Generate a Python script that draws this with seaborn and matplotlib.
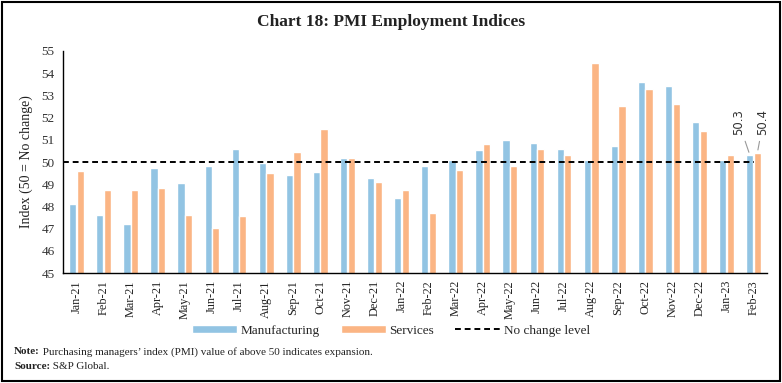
import matplotlib
matplotlib.use("Agg")
import matplotlib.pyplot as plt
import seaborn as sns
import pandas as pd
import numpy as np
from matplotlib.patches import Patch, Rectangle
from matplotlib.lines import Line2D

months = ["Jan-21", "Feb-21", "Mar-21", "Apr-21", "May-21", "Jun-21", "Jul-21", "Aug-21",
          "Sep-21", "Oct-21", "Nov-21", "Dec-21", "Jan-22", "Feb-22", "Mar-22", "Apr-22",
          "May-22", "Jun-22", "Jul-22", "Aug-22", "Sep-22", "Oct-22", "Nov-22", "Dec-22",
          "Jan-23", "Feb-23"]
manufacturing = [48.1, 47.6, 47.2, 49.75, 49.05, 49.8, 50.6, 49.95, 49.4, 49.55, 50.2, 49.3,
                 48.4, 49.8, 50.1, 50.55, 51.0, 50.85, 50.6, 50.1, 50.7, 53.6, 53.4, 51.8,
                 50.1, 50.3]
services = [49.6, 48.75, 48.75, 48.85, 47.6, 47.05, 47.55, 49.5, 50.45, 51.5, 50.2, 49.1,
            48.75, 47.7, 49.65, 50.8, 49.8, 50.6, 50.3, 54.45, 52.5, 53.3, 52.6, 51.4,
            50.3, 50.4]
series_names = ["Manufacturing", "Services"]
colors = ["#92C4E3", "#FBB584"]
yticks = list(range(45, 56))

df = pd.DataFrame({
    "Month": months * 2,
    "Value": manufacturing + services,
    "Series": [series_names[0]] * len(months) + [series_names[1]] * len(months),
})

sns.set_style("white")
plt.rcParams["font.family"] = ["Liberation Serif", "DejaVu Serif"]

fig = plt.figure(figsize=(7.82, 3.83), dpi=100)
ax = fig.add_axes([0.0806, 0.287, 0.9004, 0.580])

sns.barplot(data=df, x="Month", y="Value", hue="Series", order=months,
            hue_order=series_names, palette=colors, width=0.56, gap=0.04,
            ax=ax, legend=False, saturation=1)
ax.set_ylim(45, 55)
ax.set_xlim(-0.5, len(months) - 0.5)
ax.hlines(50, -0.5, len(months) - 1.0, colors="black", linestyles=(0, (3, 2)), linewidth=1.4, zorder=5)

ax.set_yticks(yticks)
ax.set_yticklabels([str(t) for t in yticks], fontsize=9.5, color="#333333")
ax.set_xticks(range(len(months)))
ax.set_xticklabels(months, rotation=90, fontsize=8.8, color="#222222")
ax.set_xticks(np.arange(-0.5, len(months), 1.0), minor=True)
ax.tick_params(axis="x", which="major", length=0, pad=5)
ax.tick_params(axis="x", which="minor", length=5, width=1, color="black", direction="out")
ax.tick_params(axis="y", length=4, width=1, color="black", direction="out", pad=2)
ax.set_xlabel("")
ax.set_ylabel("Index (50 = No change)", fontsize=10, color="#222222", labelpad=6)
for s in ["top", "right"]:
    ax.spines[s].set_visible(False)
for s in ["left", "bottom"]:
    ax.spines[s].set_color("black")
    ax.spines[s].set_linewidth(1)

# annotations for last values
n = len(months) - 1
ax.annotate(f"{manufacturing[-1]:.1f}", xy=(n - 0.14, manufacturing[-1] + 0.02),
            xytext=(n - 0.55, 51.2), rotation=90, fontsize=8.5, color="#333333",
            family="DejaVu Sans", ha="center", va="bottom",
            arrowprops=dict(arrowstyle="-", color="#999999", lw=0.8))
ax.annotate(f"{services[-1]:.1f}", xy=(n + 0.14, services[-1] + 0.02),
            xytext=(n + 0.35, 51.2), rotation=90, fontsize=8.5, color="#333333",
            family="DejaVu Sans", ha="center", va="bottom",
            arrowprops=dict(arrowstyle="-", color="#999999", lw=0.8))

fig.text(0.5, 0.942, "Chart 18: PMI Employment Indices", ha="center", va="center",
         fontsize=12.5, fontweight="bold", color="#222222")

handles = [Patch(facecolor=colors[0]), Patch(facecolor=colors[1]),
           Line2D([0], [0], color="black", linestyle=(0, (3, 2)), linewidth=1.4)]
fig.legend(handles, series_names + ["No change level"], loc="center",
           bbox_to_anchor=(0.5, 0.137), ncol=3, frameon=False, fontsize=9.5,
           handlelength=3.4, handleheight=0.6, columnspacing=1.6, handletextpad=0.3)

note_lbl = fig.text(0.018, 0.081, "Note:", fontsize=8, fontweight="bold", va="center", color="#222222")
fig.text(0, 0, " Purchasing managers’ index (PMI) value of above 50 indicates expansion.",
         fontsize=8, va="center", ha="left", color="#222222",
         transform=matplotlib.transforms.offset_copy(fig.transFigure, fig=fig, x=0, y=0))
src_lbl = fig.text(0.018, 0.044, "Source:", fontsize=8, fontweight="bold", va="center", color="#222222")

fig.canvas.draw()
r = fig.canvas.get_renderer()
inv = fig.transFigure.inverted()
for lbl, txt in [(note_lbl, " Purchasing managers’ index (PMI) value of above 50 indicates expansion."),
                 (src_lbl, " S&P Global.")]:
    bb = lbl.get_window_extent(renderer=r)
    x1 = inv.transform((bb.x1, 0))[0]
    y = lbl.get_position()[1]
    fig.text(x1, y, txt, fontsize=8, va="center", ha="left", color="#222222")
# remove the placeholder text
fig.texts[2].remove()

fig.add_artist(Rectangle((0.002, 0.004), 0.996, 0.992, transform=fig.transFigure,
                         fill=False, edgecolor="black", linewidth=1.5))

fig.savefig("out.png", dpi=100)
